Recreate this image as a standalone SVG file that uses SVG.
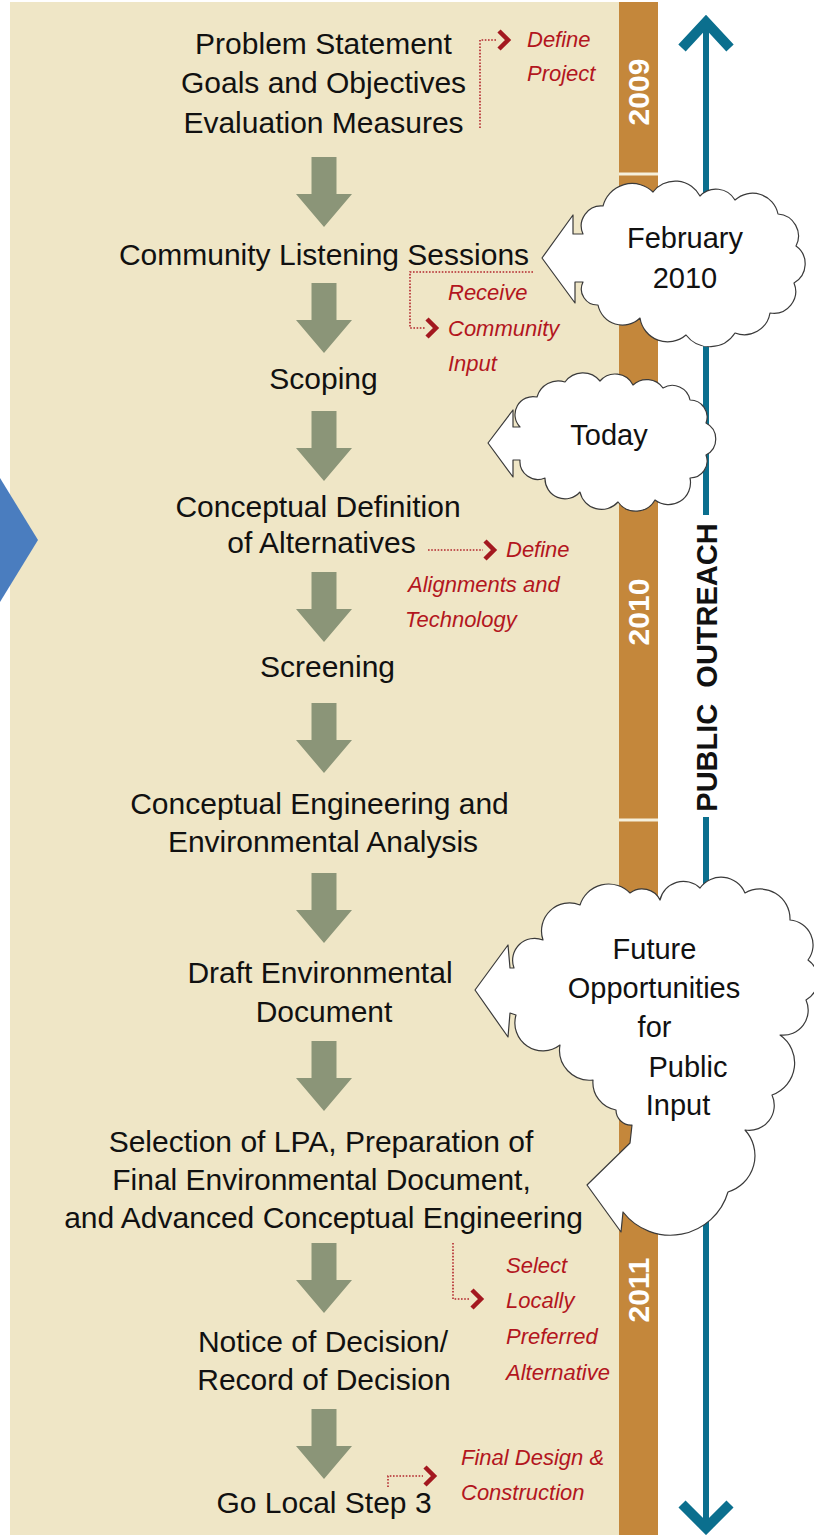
<svg xmlns="http://www.w3.org/2000/svg" xmlns:xlink="http://www.w3.org/1999/xlink" width="814" height="1535" viewBox="0 0 814 1535">
<style>
.step{font-family:"Liberation Sans",Arial,sans-serif;font-size:30px;fill:#111;text-anchor:middle}
.note{font-family:"Liberation Sans",Arial,sans-serif;font-style:italic;font-size:22px;fill:#b3161e}
.ctext{font-family:"Liberation Sans",Arial,sans-serif;font-size:29px;fill:#111;text-anchor:middle}
.year{font-family:"Liberation Sans",Arial,sans-serif;font-weight:bold;font-size:30px;fill:#fff;text-anchor:middle}
.dots{fill:none;stroke:#b3262c;stroke-width:1.6;stroke-dasharray:1.6 1.6}
.chev{fill:none;stroke:#a3181f;stroke-width:4.5;stroke-linejoin:miter}
.cloud{fill:#fff;stroke:#3a3a3a;stroke-width:1.2;stroke-linejoin:round}
.flow{fill:#8b9578}
.blue{stroke:#0b6f8e;fill:none}
</style>
<defs>
<path id="downArrow" d="M -12.5 0 H 12.5 V 37 H 28 L 0 70 L -28 37 H -12.5 Z"/>
</defs>
<rect x="0" y="0" width="814" height="1535" fill="#ffffff"/>
<g id="panel">
<rect x="10" y="2" width="609" height="1533" fill="#efe6c6"/>
</g>
<g id="timeline">
<rect x="619" y="2" width="39" height="1533" fill="#c4873b"/>
<line x1="619" y1="174" x2="658" y2="174" stroke="#f6f0dc" stroke-width="3"/>
<line x1="619" y1="820" x2="658" y2="820" stroke="#f6f0dc" stroke-width="3"/>
<text class="year" transform="translate(649,92) rotate(-90)">2009</text>
<text class="year" transform="translate(649,612) rotate(-90)">2010</text>
<text class="year" transform="translate(649,1290) rotate(-90)">2011</text>
</g>
<g id="outreach">
<line class="blue" x1="706" y1="22" x2="706" y2="515" stroke-width="6"/>
<line class="blue" x1="706" y1="817" x2="706" y2="1528" stroke-width="6"/>
<polyline class="blue" points="682,48 706,22 730,48" stroke-width="10"/>
<polyline class="blue" points="682,1504 706,1528 730,1504" stroke-width="10"/>
<text transform="translate(717,667.5) rotate(-90)" font-family="Liberation Sans, Arial, sans-serif" font-weight="bold" font-size="29" fill="#111" text-anchor="middle" word-spacing="8">PUBLIC OUTREACH</text>
</g>
<g id="left-chevron">
<polygon points="0,478 38,540 0,602" fill="#4a7dbf"/>
</g>
<g id="connectors">
<g class="flow">
<use xlink:href="#downArrow" x="324" y="157"/>
<use xlink:href="#downArrow" x="324" y="283"/>
<use xlink:href="#downArrow" x="324" y="411"/>
<use xlink:href="#downArrow" x="324" y="572"/>
<use xlink:href="#downArrow" x="324" y="703"/>
<use xlink:href="#downArrow" x="324" y="873"/>
<use xlink:href="#downArrow" x="324" y="1041"/>
<use xlink:href="#downArrow" x="324" y="1243"/>
<use xlink:href="#downArrow" x="324" y="1409"/>
</g>
<path class="dots" d="M 480 128 V 40 H 497"/>
<polyline class="chev" points="499,31 508,40 499,49"/>
<path class="dots" d="M 533 272 H 410 V 328 H 425"/>
<polyline class="chev" points="427,319 436,328 427,337"/>
<path class="dots" d="M 428 550 H 483"/>
<polyline class="chev" points="485,541 494,550 485,559"/>
<path class="dots" d="M 453 1243 V 1299 H 470"/>
<polyline class="chev" points="472,1290 481,1299 472,1308"/>
<path class="dots" d="M 388 1487 V 1476 H 423"/>
<polyline class="chev" points="425,1467 434,1476 425,1485"/>
</g>
<g id="step-define">
<text class="step" x="323.5" y="54">Problem Statement</text>
<text class="step" x="323.5" y="93">Goals and Objectives</text>
<text class="step" x="323.5" y="133">Evaluation Measures</text>
</g>
<g id="step-listening"><text class="step" x="324" y="265">Community Listening Sessions</text></g>
<g id="step-scoping"><text class="step" x="323.5" y="389">Scoping</text></g>
<g id="step-conceptual">
<text class="step" x="318" y="517">Conceptual Definition</text>
<text class="step" x="321.5" y="553">of Alternatives</text>
</g>
<g id="step-screening"><text class="step" x="327.5" y="677">Screening</text></g>
<g id="step-engineering">
<text class="step" x="319.5" y="814">Conceptual Engineering and</text>
<text class="step" x="323" y="852">Environmental Analysis</text>
</g>
<g id="step-draft">
<text class="step" x="320" y="983">Draft Environmental</text>
<text class="step" x="324" y="1022">Document</text>
</g>
<g id="step-lpa">
<text class="step" x="321" y="1152">Selection of LPA, Preparation of</text>
<text class="step" x="321.5" y="1190">Final Environmental Document,</text>
<text class="step" x="323.5" y="1228">and Advanced Conceptual Engineering</text>
</g>
<g id="step-decision">
<text class="step" x="323" y="1352">Notice of Decision/</text>
<text class="step" x="324" y="1390">Record of Decision</text>
</g>
<g id="step-golocal"><text class="step" x="324" y="1513">Go Local Step 3</text></g>
<g id="note-project">
<text class="note" x="527" y="47">Define</text>
<text class="note" x="527" y="81">Project</text>
</g>
<g id="note-input">
<text class="note" x="448" y="300">Receive</text>
<text class="note" x="448" y="336">Community</text>
<text class="note" x="448" y="371">Input</text>
</g>
<g id="note-alignments">
<text class="note" x="506" y="557">Define</text>
<text class="note" x="408" y="592">Alignments and</text>
<text class="note" x="405" y="627">Technology</text>
</g>
<g id="note-lpa">
<text class="note" x="506" y="1273">Select</text>
<text class="note" x="506" y="1308">Locally</text>
<text class="note" x="506" y="1344">Preferred</text>
<text class="note" x="506" y="1380">Alternative</text>
</g>
<g id="note-final">
<text class="note" x="461" y="1465">Final Design &amp;</text>
<text class="note" x="461" y="1500">Construction</text>
</g>
<g id="cloud-february">
<path class="cloud" d="M 542 258 L 573 215 L 573 234 L 583 234 A 20 20 0 0 1 603 206 A 30 30 0 0 1 653 192 A 28 28 0 0 1 700 196 A 22 22 0 0 1 735 200 A 26 26 0 0 1 778 214 A 22 22 0 0 1 796 246 A 22 22 0 0 1 794 283 A 22 22 0 0 1 770 313 A 26 26 0 0 1 735 333 A 30 30 0 0 1 686 335 A 28 28 0 0 1 640 318 A 25 25 0 0 1 598 305 A 16 16 0 0 1 583 282 L 575 282 L 575 303 Z"/>
<text class="ctext" x="685" y="248">February</text>
<text class="ctext" x="685" y="288">2010</text>
</g>
<g id="cloud-today">
<path class="cloud" d="M 488 443 L 513 410 L 513 427 L 520 427 A 18 18 0 0 1 537 397 A 22 22 0 0 1 565 382 A 22 22 0 0 1 600 381 A 20 20 0 0 1 633 385 A 20 20 0 0 1 663 388 A 18 18 0 0 1 690 400 A 17 17 0 0 1 706 423 A 18 18 0 0 1 706 455 A 17 17 0 0 1 690 478 A 22 22 0 0 1 655 500 A 22 22 0 0 1 618 502 A 22 22 0 0 1 580 492 A 20 20 0 0 1 545 478 A 18 18 0 0 1 520 460 L 513 460 L 513 477 Z"/>
<text class="ctext" x="609" y="445">Today</text>
</g>
<g id="cloud-future">
<path class="cloud" d="M 475 990 L 508 945 L 510 968 L 514 968 A 22 22 0 0 1 543 940 A 28 28 0 0 1 580 905 A 30 30 0 0 1 630 893 A 20 20 0 0 1 660 900 A 24 24 0 0 1 700 888 A 26 26 0 0 1 745 893 A 30 30 0 0 1 790 920 A 25 25 0 0 1 808 960 A 24 24 0 0 1 806 1000 A 25 25 0 0 1 780 1035 A 34 34 0 0 1 772 1095 A 25 25 0 0 1 745 1130 A 38 38 0 0 1 728 1192 A 60 60 0 0 1 623 1212 L 621 1232 L 587 1185 L 630 1143 L 632 1125 A 15 15 0 0 1 616 1110 A 28 28 0 0 1 593 1080 A 30 30 0 0 1 560 1045 A 28 28 0 0 1 516 1015 L 510 1013 L 508 1037 Z"/>
<text class="ctext" x="654.5" y="959">Future</text>
<text class="ctext" x="654" y="998">Opportunities</text>
<text class="ctext" x="654.5" y="1037">for</text>
<text class="ctext" x="688" y="1077">Public</text>
<text class="ctext" x="678" y="1115">Input</text>
</g>
</svg>
